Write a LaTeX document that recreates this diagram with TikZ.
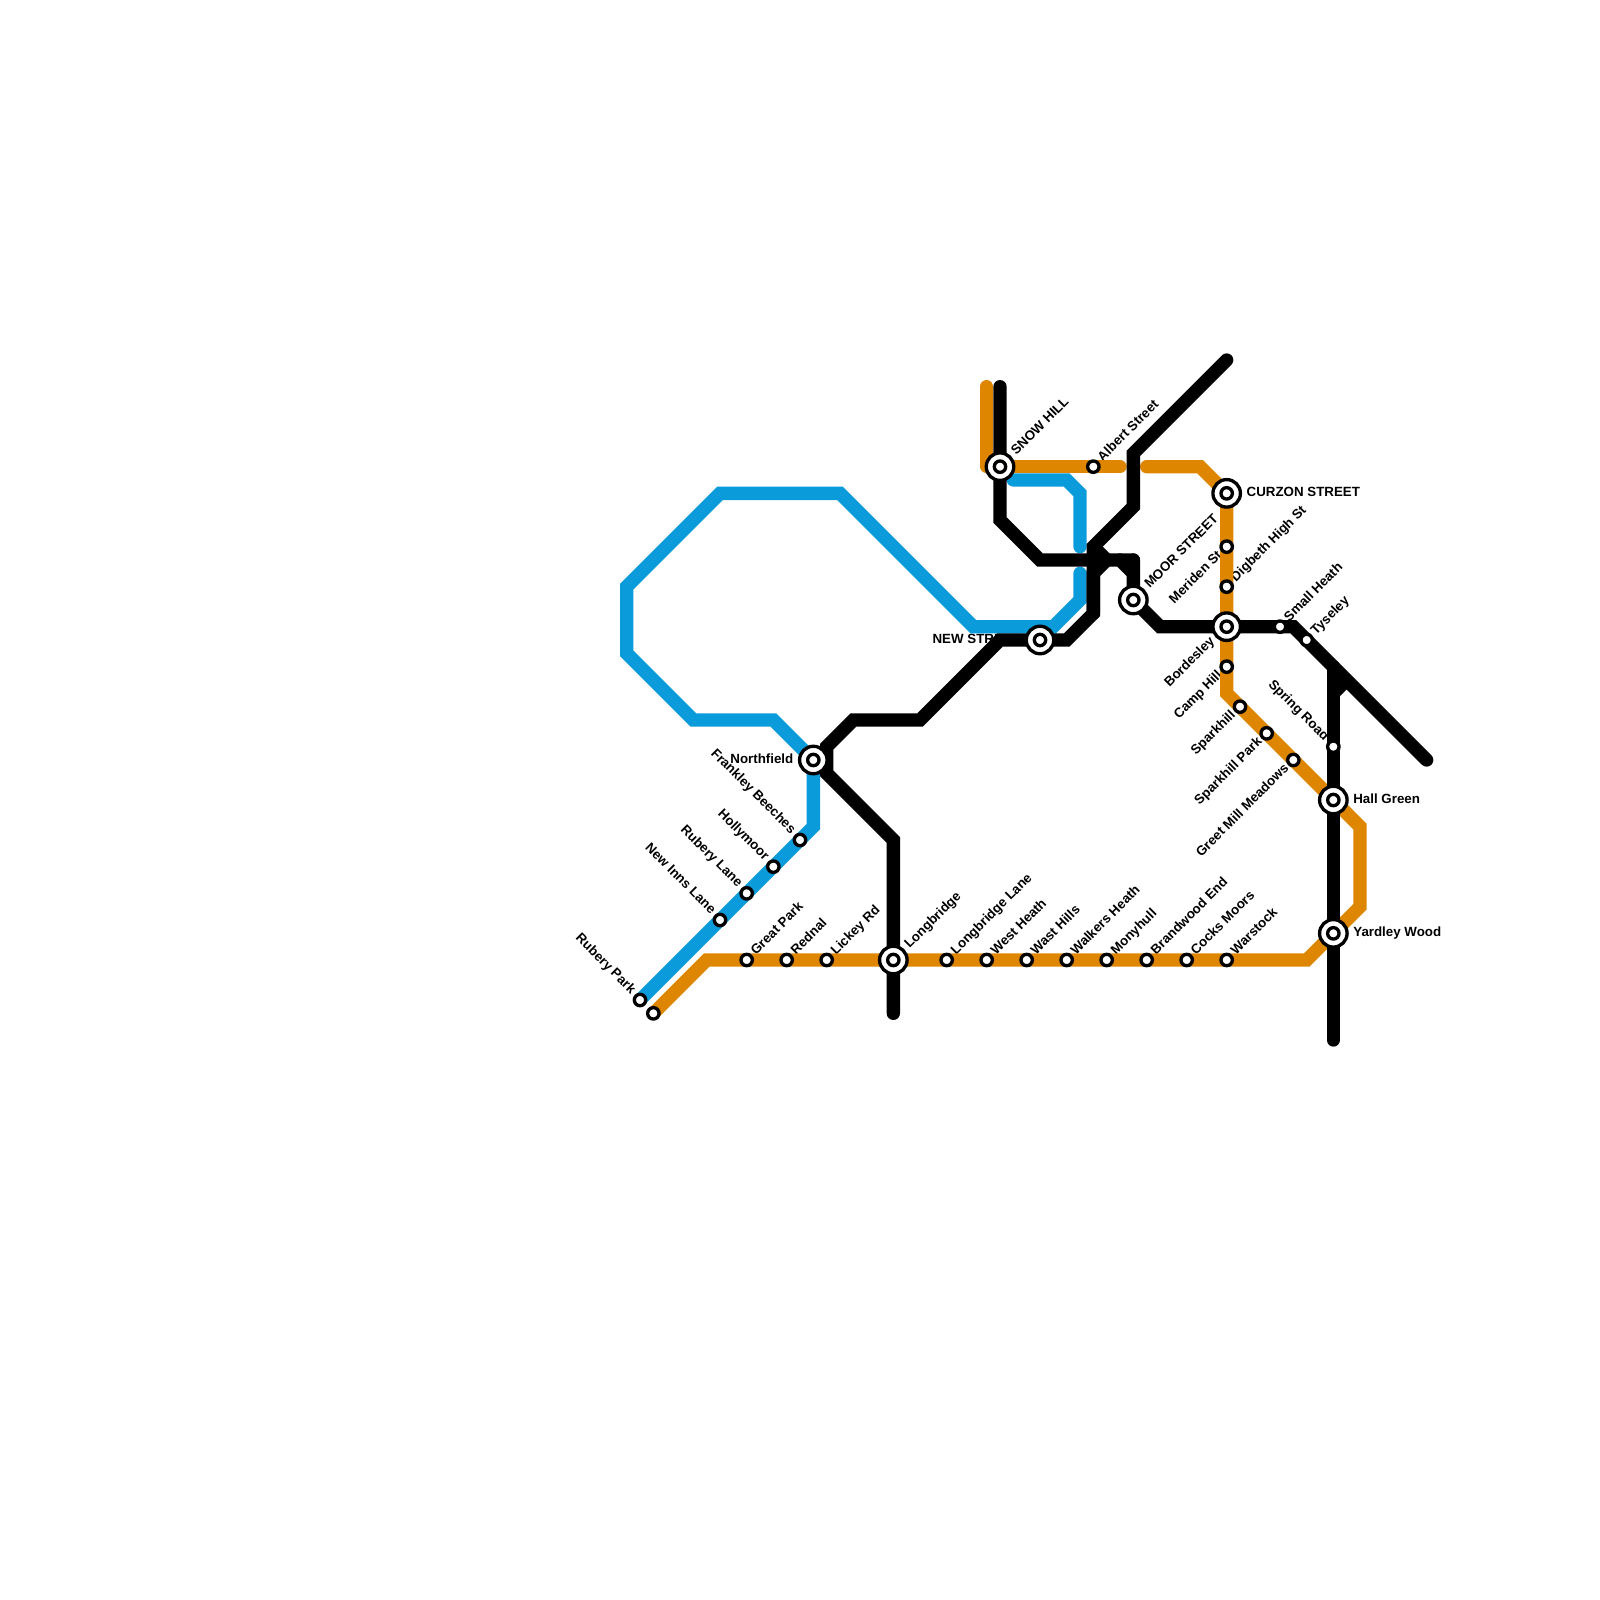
\documentclass[tikz,border=0pt]{standalone}
\usepackage{fontspec}
\setmainfont{Liberation Sans}
\definecolor{mblue}{HTML}{0A9BDB}
\definecolor{morange}{HTML}{DF8600}
\tikzset{
 lineb/.style={line width=13.33pt,line cap=round,miter limit=10,draw=black},
 lineo/.style={lineb,draw=morange},
 linel/.style={lineb,draw=mblue},
 stn/.style={circle,draw=black,fill=white,line width=3.33pt,minimum size=11.4pt,inner sep=0pt,outer sep=0pt},
 hub/.style={circle,draw=black,fill=white,line width=3.33pt,minimum size=27.5pt,inner sep=0pt,outer sep=0pt},
 hubin/.style={stn},
 lab/.style={font=\fontsize{13.33}{16}\selectfont\bfseries,inner sep=0pt,outer sep=0pt,text height=9.6pt,text depth=2.8pt,text=black},
 ne/.style={lab,xshift=7pt,yshift=7pt,rotate=45,anchor=west},
 nw/.style={lab,xshift=-7pt,yshift=8pt,rotate=-45,anchor=east},
 sw/.style={lab,xshift=-6.5pt,yshift=-7pt,rotate=45,anchor=east},
 hne/.style={lab,xshift=14pt,yshift=13.5pt,rotate=45,anchor=west},
 hsw/.style={lab,xshift=-14pt,yshift=-13pt,rotate=45,anchor=east},
 he/.style={lab,anchor=west,xshift=20pt},
 hw/.style={lab,anchor=east,xshift=-20pt},
}
\begin{document}
\begin{tikzpicture}[x=13.3333pt,y=-13.3333pt]
\useasboundingbox (0,0) rectangle (120,120);
% station positions
\foreach \n/\x/\y in {rp/48/75,nil/54/69,rl/56/67,hm/58/65,fb/60/63,nf/61/57,
 rbn/49/76,gp/56/72,rd/59/72,lr/62/72,lb/67/72,ll/71/72,wh/74/72,wa/77/72,wk/80/72,my/83/72,be/86/72,cm/89/72,ws/92/72,
 sh/75/35,as/82/35,ns/78/48,ms/85/45,cs/92/37,me/92/41,dg/92/44,bd/92/47,ch/92/50,sk/93/53,sp/95/55,gm/97/57,hg/100/60,yw/100/70,
 sm/96/47,ty/98/48,sr/100/56,
 botE/67/76,topB/75/29,topO/74/29,neE/92/27,seE/107/57,botV/100/78,orgE/84/35,orgS/86/35,bluA/81/43,bluB/81/41,bluC/76/36,
 kn/82/41,kc/83/42,kl/84/42,kd/85/43,kv/82/46,hz/85/42,topV/100/50}{
 \coordinate (p\n) at (\x,\y);
}
% labels sit beneath the lines
\node[nw] (Lrp) at (prp) {Rubery Park};
\node[nw] (Lnil) at (pnil) {New Inns Lane};
\node[nw] (Lrl) at (prl) {Rubery Lane};
\node[nw] (Lhm) at (phm) {Hollymoor};
\node[nw] (Lfb) at (pfb) {Frankley Beeches};
\node[hw] (Lnf) at (pnf) {Northfield};
\node[ne] (Lgp) at (pgp) {Great Park};
\node[ne] (Lrd) at (prd) {Rednal};
\node[ne] (Llr) at (plr) {Lickey Rd};
\node[hne] (Llb) at (plb) {Longbridge};
\node[ne] (Lll) at (pll) {Longbridge Lane};
\node[ne] (Lwh) at (pwh) {West Heath};
\node[ne] (Lwa) at (pwa) {Wast Hills};
\node[ne] (Lwk) at (pwk) {Walkers Heath};
\node[ne] (Lmy) at (pmy) {Monyhull};
\node[ne] (Lbe) at (pbe) {Brandwood End};
\node[ne] (Lcm) at (pcm) {Cocks Moors};
\node[ne] (Lws) at (pws) {Warstock};
\node[hne] (Lsh) at (psh) {SNOW HILL};
\node[ne] (Las) at (pas) {Albert Street};
\node[hw] (Lns) at (pns) {NEW STREET};
\node[hne] (Lms) at (pms) {MOOR STREET};
\node[he] (Lcs) at (pcs) {CURZON STREET};
\node[sw] (Lme) at (pme) {Meriden St};
\node[ne] (Ldg) at (pdg) {Digbeth High St};
\node[hsw] (Lbd) at (pbd) {Bordesley};
\node[sw] (Lch) at (pch) {Camp Hill};
\node[sw] (Lsk) at (psk) {Sparkhill};
\node[sw] (Lsp) at (psp) {Sparkhill Park};
\node[sw] (Lgm) at (pgm) {Greet Mill Meadows};
\node[he] (Lhg) at (phg) {Hall Green};
\node[he] (Lyw) at (pyw) {Yardley Wood};
\node[ne] (Lsm) at (psm) {Small Heath};
\node[ne] (Lty) at (pty) {Tyseley};
\node[nw] (Lsr) at (psr) {Spring Road};
% blue line
\draw[linel] (prp) -- (61,62) -- (pnf) -- (58,54) -- (52,54) -- (47,49) -- (47,44) -- (54,37) -- (63,37) -- (73,47) -- (79,47) -- (81,45) -- (pbluA);
\draw[linel] (pbluB) -- (81,37) -- (80,36) -- (pbluC);
% orange line
\draw[lineo,line join=round] (ptopO) -- (74,35) -- (porgE);
\draw[lineo] (porgS) -- (90,35) -- (pcs) -- (92,52) -- (phg) -- (102,62) -- (102,68) -- (pyw) -- (98,72) -- (53,72) -- (prbn);
% black line
\draw[lineb] (pbotE) -- (67,63) -- (62,58) -- (62,56) -- (64,54) -- (69,54) -- (75,48) -- (80,48) -- (pkv) -- (82,43) -- (pkc);
\draw[lineb] (pkl) -- (pkd);
\draw[lineb] (ptopB) -- (75,39) -- (78,42) -- (phz);
\draw[lineb] (phz) -- (pms) -- (87,47) -- (97,47) -- (pseE);
\draw[lineb] (pneE) -- (85,34) -- (85,38) -- (pkn) -- (pkv);
\draw[lineb,line cap=butt] (pkn) -- (pkc);
\draw[lineb] (pbotV) -- (100,52) -- (ptopV);
\draw[lineb,line cap=butt] (100,52) -- (101,51);
% stations
\foreach \n in {rp,nil,rl,hm,fb,rbn,gp,rd,lr,ll,wh,wa,wk,my,be,cm,ws,as,me,dg,ch,sk,sp,gm,sm,ty,sr}{
 \node[stn] (\n) at (p\n) {};
}
\foreach \n in {nf,lb,sh,ns,ms,cs,bd,hg,yw}{
 \node[hub] (\n) at (p\n) {};
 \node[hubin] (\n in) at (p\n) {};
}
\end{tikzpicture}
\end{document}
